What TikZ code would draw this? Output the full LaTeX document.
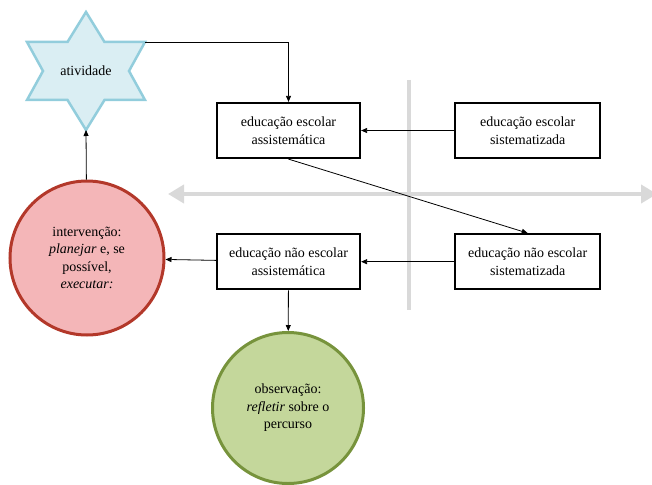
\documentclass[tikz,border=0pt]{standalone}
\usepackage{fontspec}
\setmainfont{Liberation Serif}
\usetikzlibrary{arrows.meta,positioning}
\definecolor{starfill}{HTML}{DAEEF3}
\definecolor{starline}{HTML}{92CDDC}
\definecolor{redfill}{HTML}{F4B6B8}
\definecolor{redline}{HTML}{B3382A}
\definecolor{greenfill}{HTML}{C4D79B}
\definecolor{greenline}{HTML}{77933C}
\definecolor{axisgray}{HTML}{D9D9D9}

\tikzset{
  every node/.style={font=\fontsize{14}{17.5}\selectfont},
  box/.style={draw, line width=2.2pt, minimum width=143pt, minimum height=55pt,
    align=center, font=\fontsize{14}{18}\selectfont},
  circ/.style={circle, line width=3pt, align=center, inner sep=0pt},
  conn/.style={-{Triangle[length=6pt,width=5pt]}, line width=0.8pt},
  axisline/.style={{Triangle[length=16pt,width=18pt]}-{Triangle[length=16pt,width=18pt]},
    line width=4pt, axisgray},
}

\begin{document}
\begin{tikzpicture}[x=1pt, y=-1pt]
  \useasboundingbox (0,0) rectangle (652,484);
  % Define nodes
  \coordinate (actc) at (86,71);
  \filldraw[fill=starfill, draw=starline, line width=2.5pt, line join=miter, shift={(actc)}]
    (0,-59) -- (18.5,-29) -- (59,-29) -- (43,0) -- (59,29) -- (18.5,29) -- (0,59)
    -- (-18.5,29) -- (-59,29) -- (-43,0) -- (-59,-29) -- (-18.5,-29) -- cycle;
  \node (act) at (actc) {atividade};
  \coordinate (actne) at (145,42);
  \coordinate (acts) at (86,130);
  \node[box] (esa) at (288.5,130.5) {educação escolar\\assistemática};
  \node[box, right=93pt of esa, minimum width=145pt] (ess) {educação escolar\\sistematizada};
  \node[box, below=74pt of esa] (nea) {educação não escolar\\assistemática};
  \node[box, below=74pt of ess, minimum width=145pt] (nes) {educação não escolar\\sistematizada};
  \node[circ, draw=redline, fill=redfill, minimum size=154pt] (int) at (87,258)
    {intervenção:\\\textit{planejar} e, se\\possível,\\\textit{executar:}};
  \node[circ, draw=greenline, fill=greenfill, minimum size=151pt] (obs) at (288,408)
    {observação:\\\textit{refletir} sobre o\\percurso};
  % Axes
  \coordinate (axl) at (168,194);
  \coordinate (axr) at (657,194);
  \coordinate (axt) at (409,80);
  \coordinate (axb) at (409,310);
  \draw[axisline] (axl) -- (axr);
  \draw[line width=4pt, axisgray] (axt) -- (axb);
  % Connect the nodes
  \draw[conn] (actne) -| (esa.north);
  \draw[conn] (ess) -- (esa);
  \draw[conn] (esa.south) -- (nes.north);
  \draw[conn] (nes) -- (nea);
  \draw[conn] (nea) -- (int);
  \draw[conn] (nea) -- (obs);
  \draw[conn] (int) -- (acts);
\end{tikzpicture}
\end{document}
